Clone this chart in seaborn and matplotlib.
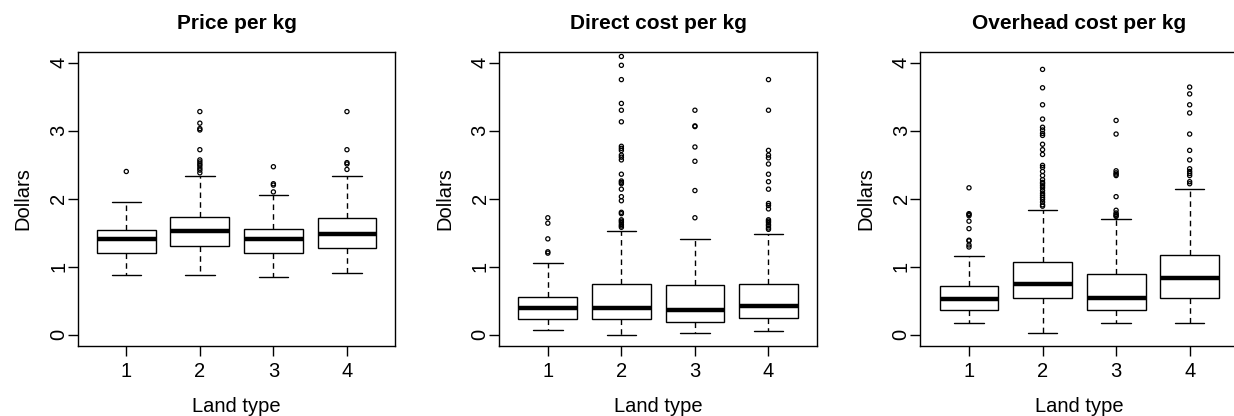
import warnings
warnings.filterwarnings("ignore")

import matplotlib
matplotlib.use("Agg")
import matplotlib.pyplot as plt
import seaborn as sns
import pandas as pd

land_types = [1, 2, 3, 4]
titles = ["Price per kg", "Direct cost per kg", "Overhead cost per kg"]

# box summaries: [whisker low, q1, median, q3, whisker high]
price_stats = [
    [0.88, 1.20, 1.41, 1.545, 1.95],
    [0.88, 1.31, 1.525, 1.735, 2.34],
    [0.85, 1.20, 1.41, 1.56, 2.05],
    [0.91, 1.27, 1.485, 1.72, 2.34],
]
direct_stats = [
    [0.07, 0.23, 0.39, 0.56, 1.06],
    [0.00, 0.23, 0.39, 0.75, 1.53],
    [0.02, 0.19, 0.36, 0.73, 1.41],
    [0.06, 0.245, 0.43, 0.75, 1.485],
]
overhead_stats = [
    [0.18, 0.36, 0.525, 0.71, 1.16],
    [0.02, 0.54, 0.75, 1.075, 1.83],
    [0.18, 0.36, 0.54, 0.90, 1.70],
    [0.18, 0.54, 0.83, 1.17, 2.14],
]

# outliers per land type
price_out = [
    [2.40],
    [3.28, 3.11, 3.03, 3.01, 2.72, 2.57, 2.54, 2.51, 2.485, 2.45, 2.42, 2.38],
    [2.47, 2.22, 2.20, 2.10],
    [3.28, 2.72, 2.53, 2.51, 2.43],
]
direct_out = [
    [1.72, 1.64, 1.41, 1.22, 1.20],
    [4.09, 3.96, 3.75, 3.40, 3.30, 3.13, 2.77, 2.74, 2.71, 2.64, 2.61, 2.57,
     2.36, 2.26, 2.24, 2.22, 2.14, 2.03, 1.97, 1.80, 1.78, 1.69, 1.67, 1.65,
     1.62, 1.60, 1.58],
    [3.30, 3.07, 3.06, 2.76, 2.55, 2.12, 1.72],
    [3.75, 3.30, 2.71, 2.64, 2.60, 2.51, 2.36, 2.25, 2.14, 1.93, 1.90, 1.85,
     1.69, 1.67, 1.65, 1.62, 1.60, 1.57, 1.55],
]
overhead_out = [
    [2.16, 1.78, 1.77, 1.75, 1.67, 1.56, 1.39, 1.38, 1.32, 1.29],
    [3.90, 3.63, 3.38, 3.17, 3.05, 3.01, 2.96, 2.93, 2.80, 2.72, 2.65, 2.49,
     2.46, 2.40, 2.34, 2.28, 2.24, 2.22, 2.19, 2.16, 2.12, 2.08, 2.05, 2.02,
     1.99, 1.95, 1.91, 1.89],
    [3.15, 2.95, 2.41, 2.38, 2.36, 2.34, 2.03, 1.83, 1.79, 1.77, 1.75, 1.74],
    [3.64, 3.54, 3.38, 3.26, 2.95, 2.71, 2.57, 2.44, 2.40, 2.37, 2.34, 2.25, 2.22],
]

sns.set_style("ticks")
plt.rcParams['font.family'] = ['Liberation Sans', 'DejaVu Sans']
plt.rcParams['text.color'] = 'black'
plt.rcParams['axes.labelcolor'] = 'black'

fig = plt.figure(figsize=(12.34, 4.16), dpi=100)
lefts = [0.063, 0.4046, 0.7459]
axes = [fig.add_axes([l, 0.169, 0.2575, 0.7067]) for l in lefts]

panels = [(price_stats, price_out), (direct_stats, direct_out), (overhead_stats, overhead_out)]

for ax, title, (stats, outs) in zip(axes, titles, panels):
    bxp_stats = []
    for lt, s in zip(land_types, stats):
        bxp_stats.append({"whislo": s[0], "q1": s[1], "med": s[2], "q3": s[3],
                          "whishi": s[4], "fliers": [], "label": str(lt)})
    ax.bxp(bxp_stats, positions=land_types, widths=0.8, showfliers=False,
           patch_artist=True,
           boxprops=dict(facecolor="white", edgecolor="black", linewidth=1.0),
           medianprops=dict(color="black", linewidth=3.2, solid_capstyle="butt"),
           whiskerprops=dict(color="black", linewidth=1.0, linestyle=(0, (4, 3))),
           capprops=dict(color="black", linewidth=1.0),
           capwidths=0.4)

    out_df = pd.DataFrame({
        "land": [lt for lt, o in zip(land_types, outs) for _ in o],
        "value": [v for o in outs for v in o],
    })
    sns.scatterplot(data=out_df, x="land", y="value", ax=ax, marker="o", s=9,
                    facecolor="none", edgecolor="black", linewidth=0.9,
                    legend=False, zorder=3)

    ax.set_xlim(0.34, 4.66)
    ax.set_ylim(-0.16, 4.16)
    ax.set_xticks(land_types)
    ax.set_xticklabels([str(x) for x in land_types])
    ax.set_yticks([0, 1, 2, 3, 4])
    ax.set_yticklabels(["0", "1", "2", "3", "4"], rotation=90, va="center")
    ax.tick_params(axis="both", direction="out", length=7, width=1.0,
                   color="black", labelsize=14.5, labelcolor="black")
    ax.tick_params(axis="x", pad=5)
    ax.tick_params(axis="y", pad=0)
    for sp in ax.spines.values():
        sp.set_visible(True)
        sp.set_color("black")
        sp.set_linewidth(1.0)
    ax.set_xlabel("Land type", fontsize=14.5, labelpad=11.5)
    ax.set_ylabel("Dollars", fontsize=14.5, labelpad=12)
    ax.set_title(title, fontsize=15, fontweight="bold", pad=16)

fig.savefig("out.png", dpi=100)
